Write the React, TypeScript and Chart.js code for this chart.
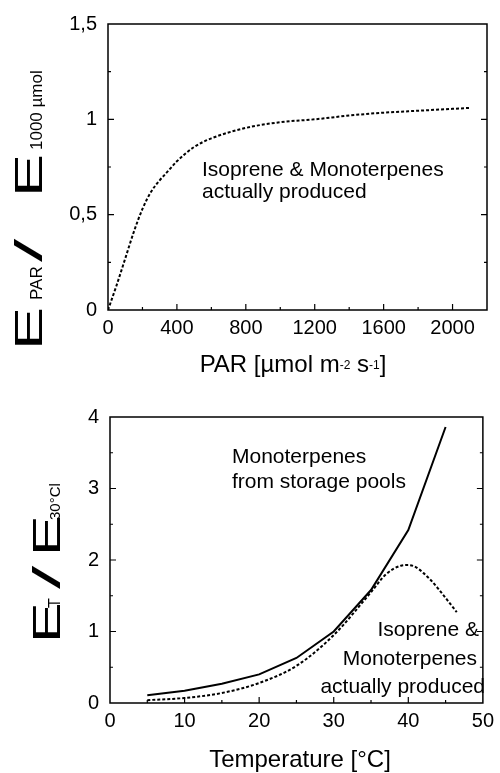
import React, { useEffect, useRef } from 'react';
import { Chart, registerables } from 'chart.js';
Chart.register(...registerables);

// ---- data: PAR response ----
const parX = [0, 50, 100, 150, 200, 250, 300, 350, 400, 500, 600, 800, 1000, 1200, 1400, 1600, 1800, 2000, 2100];
const parY = [0, 0.13, 0.27, 0.41, 0.53, 0.62, 0.68, 0.73, 0.78, 0.855, 0.9, 0.955, 0.985, 1.0, 1.02, 1.035, 1.045, 1.055, 1.06];
const parXTickValues = [0, 400, 800, 1200, 1600, 2000];
const parXTickLabels = ['0', '400', '800', '1200', '1600', '2000'];
const parYTickValues = [0, 0.5, 1, 1.5];
const parYTickLabels = ['0', '0,5', '1', '1,5'];

// ---- data: temperature response ----
const storageT = [5, 10, 15, 20, 25, 30, 35, 40, 45];
const storageY = [0.11, 0.17, 0.27, 0.4, 0.63, 1.0, 1.58, 2.42, 3.86];
const producedT = [5, 10, 15, 20, 25, 30, 35, 37, 39, 40, 41, 42, 43, 44, 45, 46.5];
const producedY = [0.04, 0.07, 0.14, 0.28, 0.52, 0.95, 1.55, 1.8, 1.92, 1.93, 1.9, 1.82, 1.72, 1.6, 1.47, 1.27];
const tempXTickValues = [0, 10, 20, 30, 40, 50];
const tempXTickLabels = ['0', '10', '20', '30', '40', '50'];
const tempYTickValues = [0, 1, 2, 3, 4];
const tempYTickLabels = ['0', '1', '2', '3', '4'];

const FAMILY = '"Liberation Sans", Arial, Helvetica, sans-serif';
const TOP_H = 386;
const BOT_H = 387;

function labelFor(values: number[], labels: string[]) {
  return (v: any) => {
    const n = Number(v);
    const i = values.findIndex((t) => Math.abs(t - n) < 1e-6);
    return i >= 0 ? labels[i] : '';
  };
}

const decor = {
  id: 'decor',
  afterDraw(chart: any, _args: any, opts: any) {
    const ctx = chart.ctx as CanvasRenderingContext2D;
    const a = chart.chartArea;
    ctx.save();
    ctx.strokeStyle = '#000';
    ctx.fillStyle = '#000';
    // frame
    ctx.lineWidth = 1.5;
    ctx.strokeRect(a.left, a.top, a.right - a.left, a.bottom - a.top);
    // inward tick marks
    ctx.lineWidth = 1.2;
    const xs = chart.scales.x;
    const ys = chart.scales.y;
    xs.ticks.forEach((t: any) => {
      const p = xs.getPixelForValue(t.value);
      if (p <= a.left + 1 || p >= a.right - 1) return;
      const len = t.label ? 6 : 3;
      ctx.beginPath();
      ctx.moveTo(p, a.bottom);
      ctx.lineTo(p, a.bottom - len);
      ctx.stroke();
    });
    ys.ticks.forEach((t: any) => {
      const p = ys.getPixelForValue(t.value);
      if (p <= a.top + 1 || p >= a.bottom - 1) return;
      const len = t.label ? 6 : 3;
      ctx.beginPath();
      ctx.moveTo(a.left, p);
      ctx.lineTo(a.left + len, p);
      ctx.moveTo(a.right, p);
      ctx.lineTo(a.right - len, p);
      ctx.stroke();
    });
    // rotated y title
    ctx.textAlign = 'left';
    ctx.textBaseline = 'alphabetic';
    (opts.yTitle || []).forEach((p: any) => {
      ctx.save();
      ctx.translate(opts.yBaseX, p.y);
      ctx.rotate(-Math.PI / 2);
      ctx.scale(p.sx || 1, 1);
      ctx.font = p.size + 'px ' + FAMILY;
      ctx.fillText(p.t, 0, 0);
      ctx.restore();
    });
    // x title with superscripts
    const xt = opts.xTitle || [];
    let total = 0;
    xt.forEach((p: any) => {
      ctx.font = p.size + 'px ' + FAMILY;
      p.w = ctx.measureText(p.t).width;
      total += p.w;
    });
    let x = opts.xTitleCx - total / 2;
    xt.forEach((p: any) => {
      ctx.font = p.size + 'px ' + FAMILY;
      ctx.fillText(p.t, x, opts.xTitleBase - (p.dy || 0));
      x += p.w;
    });
    // annotations
    (opts.notes || []).forEach((n: any) => {
      ctx.font = n.size + 'px ' + FAMILY;
      ctx.textAlign = n.align;
      ctx.fillText(n.t, n.x, n.y);
    });
    ctx.restore();
  },
};

function axisCommon(extra: any) {
  return {
    type: 'linear',
    grid: { display: false, drawTicks: false },
    border: { display: false },
    ...extra,
  };
}

function makeTop(canvas: HTMLCanvasElement) {
  return new Chart(canvas, {
    type: 'line',
    data: {
      datasets: [
        {
          data: parX.map((x, i) => ({ x, y: parY[i] })),
          borderColor: '#000',
          borderWidth: 2,
          borderDash: [3, 2],
          pointRadius: 0,
          tension: 0.4,
          cubicInterpolationMode: 'monotone',
          fill: false,
        },
      ],
    },
    options: {
      animation: false,
      responsive: false,
      events: [],
      layout: { padding: { top: 24, right: 13, left: 0, bottom: 0 } },
      plugins: {
        legend: { display: false },
        tooltip: { enabled: false },
        decor: {
          yBaseX: 42,
          yTitle: [
            { t: 'E', size: 38, sx: 1.7, y: 350 },
            { t: 'PAR', size: 17, y: 300 },
            { t: '/', size: 38, sx: 2.2, y: 262 },
            { t: 'E', size: 38, sx: 1.7, y: 197 },
            { t: '1000 µmol', size: 17, y: 150 },
          ],
          xTitleCx: 293,
          xTitleBase: 372,
          xTitle: [
            { t: 'PAR [µmol m', size: 24 },
            { t: '-2', size: 12, dy: 3 },
            { t: ' s', size: 24 },
            { t: '-1', size: 12, dy: 3 },
            { t: ']', size: 24 },
          ],
          notes: [
            { t: 'Isoprene & Monoterpenes', x: 202, y: 176, size: 21, align: 'left' },
            { t: 'actually produced', x: 202, y: 198, size: 21, align: 'left' },
          ],
        },
      },
      scales: {
        x: axisCommon({
          min: 0,
          max: 2200,
          afterFit(s: any) { s.height = TOP_H - 310; },
          ticks: { stepSize: 200, autoSkip: false, maxRotation: 0, padding: 6, color: '#000', font: { family: FAMILY, size: 20 }, callback: labelFor(parXTickValues, parXTickLabels) },
        }),
        y: axisCommon({
          min: 0,
          max: 1.5,
          afterFit(s: any) { s.width = 108; },
          ticks: { stepSize: 0.25, autoSkip: false, padding: 11, color: '#000', font: { family: FAMILY, size: 20 }, callback: labelFor(parYTickValues, parYTickLabels) },
        }),
      },
    } as any,
    plugins: [decor],
  } as any);
}

function makeBottom(canvas: HTMLCanvasElement) {
  return new Chart(canvas, {
    type: 'line',
    data: {
      datasets: [
        {
          data: storageT.map((x, i) => ({ x, y: storageY[i] })),
          borderColor: '#000',
          borderWidth: 2,
          pointRadius: 0,
          tension: 0,
          fill: false,
        },
        {
          data: producedT.map((x, i) => ({ x, y: producedY[i] })),
          borderColor: '#000',
          borderWidth: 2,
          borderDash: [3, 2],
          pointRadius: 0,
          tension: 0.4,
          cubicInterpolationMode: 'monotone',
          fill: false,
        },
      ],
    },
    options: {
      animation: false,
      responsive: false,
      events: [],
      layout: { padding: { top: 31, right: 11, left: 0, bottom: 0 } },
      plugins: {
        legend: { display: false },
        tooltip: { enabled: false },
        decor: {
          yBaseX: 60,
          yTitle: [
            { t: 'E', size: 38, sx: 1.6, y: 257 },
            { t: 'T', size: 16, y: 222 },
            { t: '/', size: 38, sx: 2.2, y: 203 },
            { t: 'E', size: 38, sx: 1.6, y: 170 },
            { t: '30°Cl', size: 15, y: 134 },
          ],
          xTitleCx: 300,
          xTitleBase: 381,
          xTitle: [{ t: 'Temperature [°C]', size: 24 }],
          notes: [
            { t: 'Monoterpenes', x: 232, y: 77, size: 21, align: 'left' },
            { t: 'from storage pools', x: 232, y: 102, size: 21, align: 'left' },
            { t: 'Isoprene &', x: 479, y: 250, size: 21, align: 'right' },
            { t: 'Monoterpenes', x: 477, y: 279, size: 21, align: 'right' },
            { t: 'actually produced', x: 485, y: 307, size: 21, align: 'right' },
          ],
        },
      },
      scales: {
        x: axisCommon({
          min: 0,
          max: 50,
          afterFit(s: any) { s.height = BOT_H - 317; },
          ticks: { stepSize: 5, autoSkip: false, maxRotation: 0, padding: 6, color: '#000', font: { family: FAMILY, size: 20 }, callback: labelFor(tempXTickValues, tempXTickLabels) },
        }),
        y: axisCommon({
          min: 0,
          max: 4,
          afterFit(s: any) { s.width = 110; },
          ticks: { stepSize: 0.5, autoSkip: false, padding: 11, color: '#000', font: { family: FAMILY, size: 20 }, callback: labelFor(tempYTickValues, tempYTickLabels) },
        }),
      },
    } as any,
    plugins: [decor],
  } as any);
}

export default function App() {
  const topRef = useRef<HTMLCanvasElement>(null);
  const botRef = useRef<HTMLCanvasElement>(null);
  useEffect(() => {
    const c1 = makeTop(topRef.current!);
    const c2 = makeBottom(botRef.current!);
    return () => {
      c1.destroy();
      c2.destroy();
    };
  }, []);
  return (
    <div style={{ position: 'absolute', left: 0, top: 0, width: 500, height: 773, background: '#fff' }}>
      <canvas ref={topRef} width={500} height={TOP_H} style={{ position: 'absolute', left: 0, top: 0, width: 500, height: TOP_H }} />
      <canvas ref={botRef} width={500} height={BOT_H} style={{ position: 'absolute', left: 0, top: TOP_H, width: 500, height: BOT_H }} />
    </div>
  );
}
